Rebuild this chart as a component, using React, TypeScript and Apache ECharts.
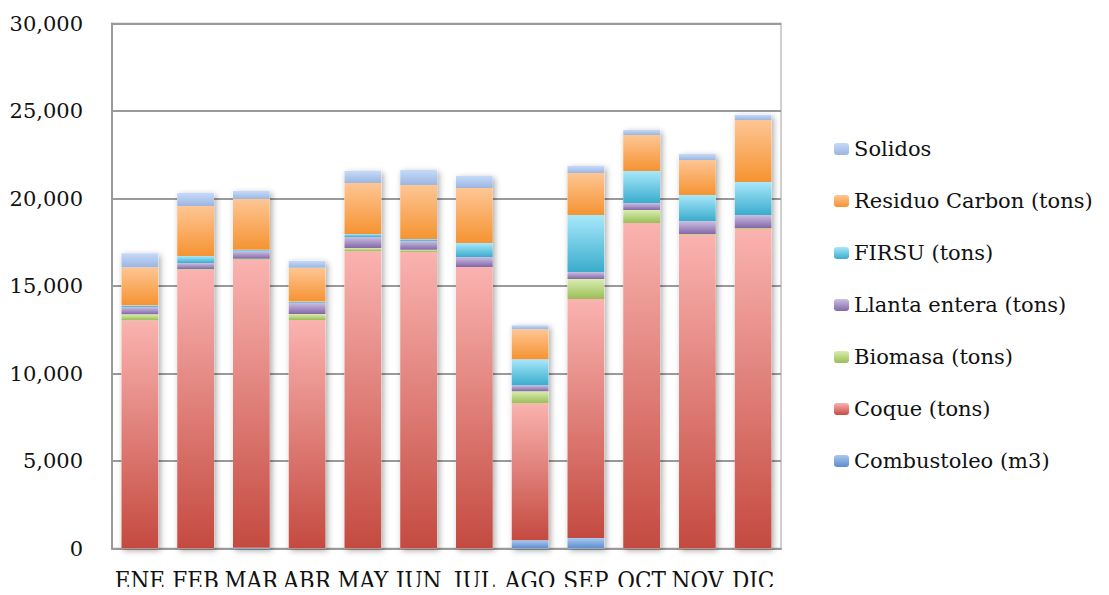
import React, { useEffect, useRef } from "react";
import * as echarts from "echarts";

// Monthly fuel consumption by type
const months = ["ENE", "FEB", "MAR", "ABR", "MAY", "JUN", "JUL", "AGO", "SEP", "OCT", "NOV", "DIC"];

const combustoleo = [0, 0, 40, 0, 0, 0, 0, 470, 600, 0, 0, 0];
const coque = [13050, 15930, 16460, 13060, 17000, 16950, 16090, 7830, 13660, 18600, 17910, 18260];
const biomasa = [330, 40, 60, 340, 170, 120, 0, 690, 1140, 740, 60, 60];
const llanta = [420, 340, 420, 650, 630, 500, 570, 340, 400, 400, 740, 740];
const firsu = [100, 400, 90, 60, 170, 110, 800, 1490, 3260, 1830, 1490, 1890];
const residuo = [2170, 2860, 2900, 1930, 2910, 3090, 3140, 1710, 2400, 2060, 2000, 3540];
const solidos = [800, 740, 460, 400, 690, 860, 690, 230, 400, 290, 340, 290];

const yTicks = { min: 0, max: 30000, interval: 5000 };

// name, values, gradient top colour, gradient bottom colour (stack order bottom → top)
const seriesDefs: [string, number[], string, string][] = [
  ["Combustoleo (m3)", combustoleo, "#aac8f0", "#5a8ccc"],
  ["Coque (tons)", coque, "#fab3b0", "#c44a40"],
  ["Biomasa (tons)", biomasa, "#d9edb0", "#9bbd57"],
  ["Llanta entera (tons)", llanta, "#cbbfe2", "#8467a8"],
  ["FIRSU (tons)", firsu, "#a8e8fb", "#3aaccc"],
  ["Residuo Carbon (tons)", residuo, "#fec694", "#f59332"],
  ["Solidos", solidos, "#c5dafa", "#9cb6e0"],
];

const totals = months.map((_, i) => seriesDefs.reduce((s, d) => s + d[1][i], 0));

const FONT = "'DejaVu Serif', serif";

export default function App() {
  const ref = useRef<HTMLDivElement>(null);

  useEffect(() => {
    if (!ref.current) return;
    const chart = echarts.init(ref.current, undefined, { renderer: "svg" });

    const grad = (top: string, bottom: string) =>
      new echarts.graphic.LinearGradient(0, 0, 0, 1, [
        { offset: 0, color: top },
        { offset: 1, color: bottom },
      ]);

    const barSeries: any[] = seriesDefs.map(([name, values, top, bottom]) => ({
      name,
      type: "bar",
      stack: "total",
      data: values,
      barCategoryGap: "34%",
      barGap: "-100%",
      z: 3,
      itemStyle: { color: grad(top, bottom) },
    }));

    // soft drop shadow behind each full column
    barSeries.unshift({
      name: "sombra",
      type: "bar",
      data: totals,
      barCategoryGap: "34%",
      barGap: "-100%",
      silent: true,
      z: 2,
      itemStyle: {
        color: "#ffffff",
        shadowBlur: 6,
        shadowColor: "rgba(0,0,0,0.35)",
        shadowOffsetX: 2,
        shadowOffsetY: 2,
      },
    });

    chart.setOption({
      animation: false,
      backgroundColor: "#ffffff",
      grid: {
        left: 112,
        right: 328,
        top: 23.5,
        bottom: 46.5,
        show: true,
        borderColor: "#cfcfcf",
        borderWidth: 2,
      },
      legend: {
        orient: "vertical",
        left: 829,
        top: 133,
        itemWidth: 15,
        itemHeight: 12,
        itemGap: 30,
        data: seriesDefs.map((d) => d[0]).reverse(),
        textStyle: { fontFamily: FONT, fontSize: 21, color: "#111", lineHeight: 22 },
      },
      xAxis: {
        type: "category",
        data: months,
        axisLine: { show: true, lineStyle: { color: "#9a9a9a", width: 2 } },
        axisTick: { show: false },
        axisLabel: {
          interval: 0,
          margin: 20,
          fontFamily: "'DejaVu Serif Condensed', 'DejaVu Serif', serif",
          fontSize: 24,
          color: "#111",
        },
      },
      yAxis: {
        type: "value",
        min: yTicks.min,
        max: yTicks.max,
        interval: yTicks.interval,
        axisLine: { show: true, lineStyle: { color: "#9a9a9a", width: 2 } },
        axisTick: { show: false },
        axisLabel: {
          margin: 29,
          fontFamily: FONT,
          fontSize: 21,
          color: "#111",
          formatter: (v: number) => v.toLocaleString("en-US"),
        },
        splitLine: { lineStyle: { color: "#9a9a9a", width: 2 } },
      },
      series: barSeries,
    });

    return () => chart.dispose();
  }, []);

  return <div ref={ref} style={{ width: 1109, height: 595, margin: -8 }} />;
}
